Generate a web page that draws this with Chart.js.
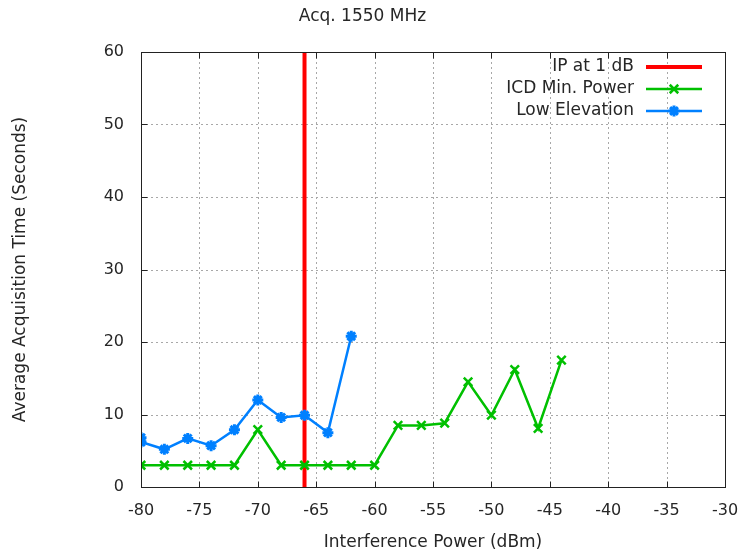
<!DOCTYPE html>
<html>
<head>
<meta charset="utf-8">
<script src="https://cdn.jsdelivr.net/npm/chart.js@4"></script>
<style>
  html, body { margin: 0; padding: 0; background: #ffffff; }
  #wrap { width: 740px; height: 557px; }
</style>
</head>
<body>
<div id="wrap"><canvas id="c" width="740" height="557"></canvas></div>
<script>
// ---- data ----
const chartTitle = "Acq. 1550 MHz";
const xTitle = "Interference Power (dBm)";
const yTitle = "Average Acquisition Time (Seconds)";
const seriesNames = ["IP at 1 dB", "ICD Min. Power", "Low Elevation"];

const ipX = [-66, -66];
const ipY = [0, 60];

const icdX = [-80, -78, -76, -74, -72, -70, -68, -66, -64, -62, -60, -58, -56, -54, -52, -50, -48, -46, -44];
const icdY = [3.0, 3.0, 3.0, 3.0, 3.0, 7.9, 3.0, 3.0, 3.0, 3.0, 3.0, 8.5, 8.5, 8.8, 14.5, 9.9, 16.2, 8.1, 17.5];

const lowX = [-80, -80, -78, -76, -74, -72, -70, -68, -66, -64, -62];
const lowY = [6.8, 6.2, 5.2, 6.7, 5.7, 7.9, 12.0, 9.6, 9.9, 7.5, 20.8];

const xTicks = [-80, -75, -70, -65, -60, -55, -50, -45, -40, -35, -30];
const yTicks = [0, 10, 20, 30, 40, 50, 60];

const colors = ["#ff0000", "#00c000", "#0080ff"];
const FONT = "'DejaVu Sans', sans-serif";
const TEXT = "#262626";

function pts(xs, ys) { return xs.map((x, i) => ({ x: x, y: ys[i] })); }

// grid behind data
const gridPlugin = {
  id: 'gnuGrid',
  beforeDatasetsDraw(chart) {
    const { ctx, chartArea: a, scales: { x, y } } = chart;
    ctx.save();
    ctx.strokeStyle = '#a8a8a8';
    ctx.lineWidth = 1;
    ctx.setLineDash([2, 3]);
    xTicks.slice(1, -1).forEach(v => {
      const px = Math.round(x.getPixelForValue(v)) + 0.5;
      ctx.beginPath(); ctx.moveTo(px, a.top); ctx.lineTo(px, a.bottom); ctx.stroke();
    });
    yTicks.slice(1, -1).forEach(v => {
      const py = Math.round(y.getPixelForValue(v)) + 0.5;
      ctx.beginPath(); ctx.moveTo(a.left, py); ctx.lineTo(a.right, py); ctx.stroke();
    });
    ctx.restore();
  }
};

function drawMarker(ctx, style, cx, cy, r) {
  ctx.beginPath();
  if (style === 'crossRot' || style === 'star') {
    const d = r * Math.SQRT1_2;
    ctx.moveTo(cx - d, cy - d); ctx.lineTo(cx + d, cy + d);
    ctx.moveTo(cx - d, cy + d); ctx.lineTo(cx + d, cy - d);
  }
  if (style === 'star') {
    ctx.moveTo(cx - r, cy); ctx.lineTo(cx + r, cy);
    ctx.moveTo(cx, cy - r); ctx.lineTo(cx, cy + r);
  }
  ctx.stroke();
}

// frame, inward ticks and key on top
const framePlugin = {
  id: 'gnuFrame',
  afterDatasetsDraw(chart) {
    const { ctx, chartArea: a, scales: { x, y } } = chart;
    ctx.save();
    ctx.strokeStyle = '#222222';
    ctx.lineWidth = 1;
    ctx.setLineDash([]);
    const L = Math.round(a.left) + 0.5, R = Math.round(a.right) + 0.5;
    const T = Math.round(a.top) + 0.5, B = Math.round(a.bottom) + 0.5;
    ctx.strokeRect(L, T, R - L, B - T);
    const tl = 6;
    ctx.beginPath();
    xTicks.forEach(v => {
      const px = Math.round(x.getPixelForValue(v)) + 0.5;
      ctx.moveTo(px, B); ctx.lineTo(px, B - tl);
      ctx.moveTo(px, T); ctx.lineTo(px, T + tl);
    });
    yTicks.forEach(v => {
      const py = Math.round(y.getPixelForValue(v)) + 0.5;
      ctx.moveTo(L, py); ctx.lineTo(L + tl, py);
      ctx.moveTo(R, py); ctx.lineTo(R - tl, py);
    });
    ctx.stroke();

    // key
    const textRight = 634, lineL = 646, lineR = 702, rows = [67, 89, 111];
    ctx.font = "17px " + FONT;
    ctx.fillStyle = TEXT;
    ctx.textAlign = 'right';
    ctx.textBaseline = 'middle';
    chart.data.datasets.forEach((ds, i) => {
      const ry = rows[i];
      ctx.fillText(ds.label, textRight, ry);
      ctx.strokeStyle = ds.borderColor;
      ctx.lineWidth = ds.borderWidth;
      ctx.beginPath(); ctx.moveTo(lineL, ry); ctx.lineTo(lineR, ry); ctx.stroke();
      if (ds.pointStyle && ds.pointRadius > 0) {
        ctx.lineWidth = ds.pointBorderWidth;
        drawMarker(ctx, ds.pointStyle, (lineL + lineR) / 2, ry, ds.pointRadius);
      }
    });
    ctx.restore();
  }
};

new Chart(document.getElementById('c'), {
  type: 'scatter',
  data: {
    datasets: [
      {
        label: seriesNames[0], data: pts(ipX, ipY), showLine: true,
        borderColor: colors[0], backgroundColor: colors[0], borderWidth: 4,
        pointRadius: 0, order: 3, clip: 6, borderCapStyle: 'butt'
      },
      {
        label: seriesNames[1], data: pts(icdX, icdY), showLine: true,
        borderColor: colors[1], backgroundColor: colors[1], borderWidth: 2.5,
        pointStyle: 'crossRot', pointRadius: 6, pointBorderWidth: 2.5,
        pointBorderColor: colors[1], pointBackgroundColor: colors[1], order: 2
      },
      {
        label: seriesNames[2], data: pts(lowX, lowY), showLine: true,
        borderColor: colors[2], backgroundColor: colors[2], borderWidth: 2.5,
        pointStyle: 'star', pointRadius: 5.5, pointBorderWidth: 3,
        pointBorderColor: colors[2], pointBackgroundColor: colors[2], order: 1
      }
    ]
  },
  options: {
    responsive: false,
    animation: false,
    events: [],
    layout: { padding: { top: 0, right: 15, bottom: 0, left: 0 } },
    plugins: {
      legend: { display: false },
      tooltip: { enabled: false },
      title: {
        display: true, text: chartTitle, color: TEXT,
        font: { family: FONT, size: 17, weight: 'normal' },
        padding: { top: 6, bottom: 25.6 }
      }
    },
    elements: { line: { tension: 0 } },
    scales: {
      x: {
        type: 'linear', min: -80, max: -30,
        afterBuildTicks: (s) => { s.ticks = xTicks.map(v => ({ value: v })); },
        afterFit: (s) => { s.height = 70; s.paddingLeft = 0; s.paddingRight = 0; },
        grid: { display: false, drawTicks: false },
        border: { display: false },
        ticks: { color: TEXT, font: { family: FONT, size: 16 }, padding: 14, maxRotation: 0, autoSkip: false },
        title: { display: true, text: xTitle, color: TEXT, font: { family: FONT, size: 17 }, padding: { top: 0, bottom: 4 } }
      },
      y: {
        type: 'linear', min: 0, max: 60,
        afterBuildTicks: (s) => { s.ticks = yTicks.map(v => ({ value: v })); },
        afterFit: (s) => { s.width = 141; s.paddingTop = 0; s.paddingBottom = 0; },
        grid: { display: false, drawTicks: false },
        border: { display: false },
        ticks: { color: TEXT, font: { family: FONT, size: 16 }, padding: 17, autoSkip: false },
        title: { display: true, text: yTitle, color: TEXT, font: { family: FONT, size: 17 }, padding: { top: 10, bottom: 0 } }
      }
    }
  },
  plugins: [gridPlugin, framePlugin]
});
</script>
</body>
</html>
